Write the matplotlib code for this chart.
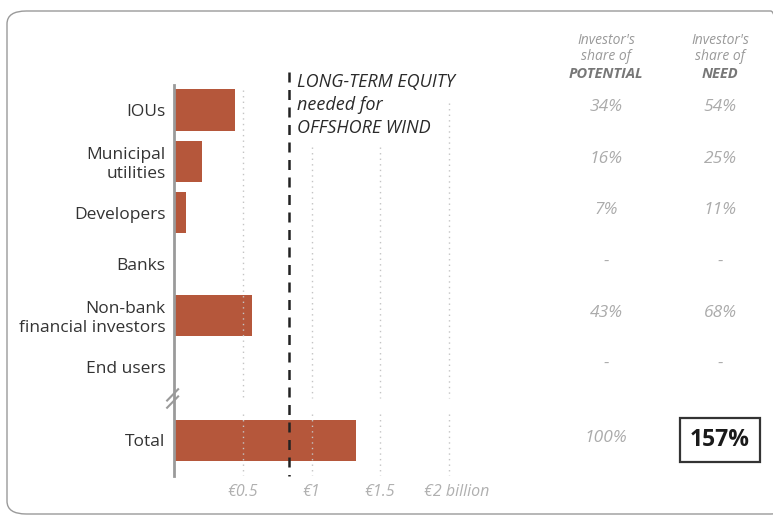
import matplotlib
matplotlib.use("Agg")
import matplotlib.pyplot as plt
from matplotlib.patches import FancyBboxPatch
import matplotlib.transforms as mtransforms

plt.rcParams["font.family"] = ["Open Sans", "DejaVu Sans"]

# data (billion EUR)
categories = ["IOUs", "Municipal\nutilities", "Developers", "Banks",
              "Non-bank\nfinancial investors", "End users", "Total"]
values = [0.447, 0.207, 0.09, 0.0, 0.57, 0.0, 1.32]
share_potential = ["34%", "16%", "7%", "-", "43%", "-", "100%"]
share_need = ["54%", "25%", "11%", "-", "68%", "-", "157%"]
equity_need = 0.836
rows = [0, 1, 2, 3, 4, 5, 6.43]
xticks = [0.5, 1, 1.5, 2]
xtick_labels = ["€0.5", "€1", "€1.5", "€2 billion"]

BAR = "#b5573b"
W, H = 773, 516

fig = plt.figure(figsize=(W / 100, H / 100), dpi=100)
fig.patch.set_facecolor("white")

# rounded frame around the chart
frame = FancyBboxPatch((7 / W, 1 - 514 / H), (790 - 7) / W, (514 - 11) / H,
                       boxstyle="round,pad=0,rounding_size=0.025",
                       transform=fig.transFigure, facecolor="none",
                       edgecolor="#9a9a9a", linewidth=1.0, clip_on=False)
fig.patches.append(frame)

ax = fig.add_axes([174 / W, 1 - 476 / H, 330 / W, (476 - 85) / H])
ax.set_xlim(0, 2.4)
ax.set_ylim(7.13, -0.487)

ax.barh(rows, values, height=0.8, color=BAR, zorder=2)

# dotted grid, broken at the axis break
gap_lo, gap_hi = 5.61, 5.93
grid_tops = {0.5: -0.39, 1: 0.72, 1.5: 0.72, 2: -0.14}
for x in xticks:
    kw = dict(color="#c4c4c4", linestyle=(0, (1, 3)), linewidth=1.0, zorder=3)
    ax.plot([x, x], [grid_tops[x], gap_lo], **kw)
    ax.plot([x, x], [gap_hi, 7.13], **kw)

# equity need marker
ax.plot([equity_need, equity_need], [-0.74, 7.13], color="#222222",
        linestyle=(0, (4, 3)), linewidth=1.8, zorder=4, clip_on=False)
ax.text(equity_need + 0.055, -0.73, "LONG-TERM EQUITY\nneeded for\nOFFSHORE WIND",
        ha="left", va="top", fontsize=13, style="italic", color="#2a2a2a",
        linespacing=1.36, clip_on=False)

for s in ["top", "right", "bottom"]:
    ax.spines[s].set_visible(False)
ax.spines["left"].set_color("#9a9a9a")
ax.spines["left"].set_linewidth(2)

# axis break mark
for dy in (-0.06, 0.08):
    ax.plot([-0.05, 0.03], [5.72 + dy, 5.5 + dy], color="#9a9a9a",
            linewidth=1.5, clip_on=False, zorder=5)

ax.set_yticks(rows)
ax.set_yticklabels(categories, fontsize=12.5, color="#333333", linespacing=1.2)
ax.tick_params(axis="y", length=0, pad=6)
ax.set_xticks(xticks)
ax.set_xticklabels(xtick_labels, fontsize=11.5, style="italic", color="#b0b0b0")
ax.tick_params(axis="x", length=0, pad=6)
shift = mtransforms.ScaledTranslation(8 / 100, 0, fig.dpi_scale_trans)
last = ax.get_xticklabels()[-1]
last.set_transform(last.get_transform() + shift)

# share columns
trans = mtransforms.blended_transform_factory(fig.transFigure, ax.transData)
col_x = [606 / W, 720 / W]
headers = ["POTENTIAL", "NEED"]
for cx, head in zip(col_x, headers):
    fig.text(cx, 1 - 40 / H, "Investor's", ha="center", va="center",
             fontsize=10, style="italic", color="#9a9a9a")
    fig.text(cx, 1 - 57 / H, "share of", ha="center", va="center",
             fontsize=10, style="italic", color="#9a9a9a")
    fig.text(cx, 1 - 74 / H, head, ha="center", va="center", fontsize=10.5,
             style="italic", weight="bold", color="#777777")

for r, p, n in zip(rows[:-1], share_potential[:-1], share_need[:-1]):
    ax.text(col_x[0], r - 0.05, p, transform=trans, ha="center", va="center",
            fontsize=12.5, style="italic", color="#ababab")
    ax.text(col_x[1], r - 0.05, n, transform=trans, ha="center", va="center",
            fontsize=12.5, style="italic", color="#ababab")

ax.text(col_x[0], rows[-1] - 0.05, share_potential[-1], transform=trans,
        ha="center", va="center", fontsize=12.5, style="italic", color="#ababab")
ax.text(col_x[1], rows[-1], share_need[-1], transform=trans, ha="center",
        va="center", fontsize=16.5, weight="bold", color="#1a1a1a",
        bbox=dict(boxstyle="square,pad=0.42", facecolor="white",
                  edgecolor="#333333", linewidth=1.6))

fig.savefig("out.png", dpi=100)
